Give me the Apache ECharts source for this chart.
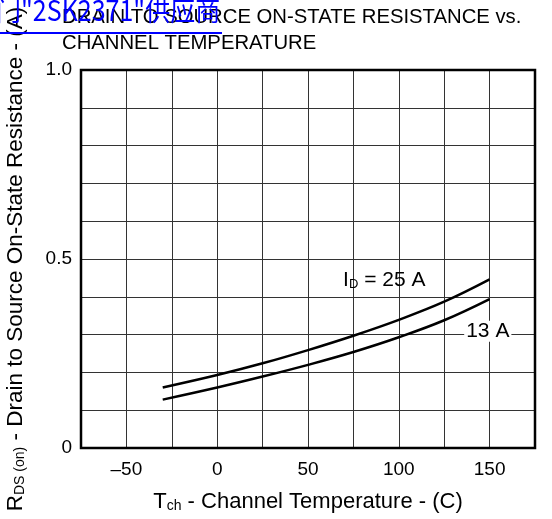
<!DOCTYPE html>
<html>
<head>
<meta charset="utf-8">
<script src="https://cdn.jsdelivr.net/npm/echarts@6/dist/echarts.min.js"></script>
<style>
  html, body { margin: 0; padding: 0; background: #fff; }
  #chart1 { width: 552px; height: 519px; }
</style>
</head>
<body>
<div id="chart1"></div>
<script>
// channel temperature (C)
var temps = [-30, 0, 25, 50, 75, 100, 125, 150];
// RDS(on) for ID = 25 A and 13 A
var rds25 = [0.160, 0.193, 0.224, 0.259, 0.297, 0.339, 0.387, 0.446];
var rds13 = [0.128, 0.160, 0.189, 0.220, 0.254, 0.293, 0.338, 0.394];
// shown tick labels
var xTicks = [-50, 0, 50, 100, 150];
var yTicks = [0, 0.5, 1.0];

function pairs(xs, ys) {
    var out = [];
    for (var i = 0; i < xs.length; i++) out.push([xs[i], ys[i]]);
    return out;
}

var FONT = 'Liberation Sans';

var chart = echarts.init(document.getElementById('chart1'));

var option = {
    animation: false,
    textStyle: { fontFamily: FONT, color: '#000' },
    grid: {
        left: 81, right: 17, top: 70, bottom: 71,
        outerBoundsMode: 'none', containLabel: false,
        show: true, borderColor: '#000', borderWidth: 2.5, z: 5
    },
    graphic: [
        {
            type: 'text', left: 62, top: 4, z: 10,
            style: {
                text: 'DRAIN TO SOURCE ON-STATE RESISTANCE vs.\nCHANNEL TEMPERATURE',
                fontFamily: FONT, fontSize: 20.3, lineHeight: 26, fill: '#000'
            }
        },
        {
            type: 'text', x: -4, y: -4, z: 20, scaleY: 1.15,
            style: {
                text: '门"2SK2371"供应商',
                fontFamily: 'Noto Sans CJK SC', fontSize: 25, fill: '#0000ff'
            }
        },
        {
            type: 'rect', left: 0, top: 32, z: 20,
            shape: { width: 222, height: 2 },
            style: { fill: '#0000ff' }
        }
    ],
    xAxis: {
        type: 'value',
        min: -75, max: 175, interval: 25,
        name: 'T{sub|ch} - Channel Temperature - (C)',
        nameLocation: 'middle', nameGap: 43,
        nameTextStyle: {
            fontSize: 22, color: '#000', fontFamily: FONT,
            rich: { sub: { fontSize: 14, verticalAlign: 'bottom', fontFamily: FONT } }
        },
        axisLine: { show: false },
        axisTick: { show: false },
        axisLabel: {
            fontSize: 19, color: '#000', margin: 12,
            formatter: function (v) {
                if (xTicks.indexOf(v) < 0) return '';
                return v < 0 ? '\u2013' + Math.abs(v) : String(v);
            }
        },
        splitLine: { show: true, lineStyle: { color: '#333', width: 1 } }
    },
    yAxis: {
        type: 'value',
        min: 0, max: 1, interval: 0.1,
        name: 'R{sub|DS (on)} - Drain to Source On-State Resistance - (A)',
        nameLocation: 'middle', nameGap: 54, nameRotate: 90,
        nameTextStyle: {
            fontSize: 22.5, color: '#000', fontFamily: FONT,
            rich: { sub: { fontSize: 14, verticalAlign: 'bottom', fontFamily: FONT } }
        },
        axisLine: { show: false },
        axisTick: { show: false },
        axisLabel: {
            fontSize: 19, color: '#000', margin: 9,
            formatter: function (v) {
                for (var i = 0; i < yTicks.length; i++) {
                    if (Math.abs(v - yTicks[i]) < 1e-6) return v === 0 ? '0' : v.toFixed(1);
                }
                return '';
            }
        },
        splitLine: { show: true, lineStyle: { color: '#333', width: 1 } }
    },
    series: [
        {
            name: '25 A', type: 'line', smooth: 0.4, symbol: 'none',
            data: pairs(temps, rds25),
            lineStyle: { color: '#000', width: 2.5 },
            z: 6,
            markPoint: {
                symbol: 'circle', symbolSize: 0,
                data: [{ coord: [92, 0.444] }],
                label: {
                    show: true, position: 'inside',
                    formatter: 'I{sub|D} = 25 A',
                    fontSize: 21, color: '#000', fontFamily: FONT,
                    rich: { sub: { fontSize: 13, verticalAlign: 'bottom', fontFamily: FONT } }
                }
            }
        },
        {
            name: '13 A', type: 'line', smooth: 0.4, symbol: 'none',
            data: pairs(temps, rds13),
            lineStyle: { color: '#000', width: 2.5 },
            z: 6,
            markPoint: {
                symbol: 'circle', symbolSize: 0,
                data: [{ coord: [149, 0.309] }],
                label: {
                    show: true, position: 'inside',
                    formatter: '13 A',
                    fontSize: 21, color: '#000', fontFamily: FONT,
                    backgroundColor: '#fff', padding: [0, 2]
                }
            }
        }
    ]
};

chart.setOption(option, true);
</script>
</body>
</html>
